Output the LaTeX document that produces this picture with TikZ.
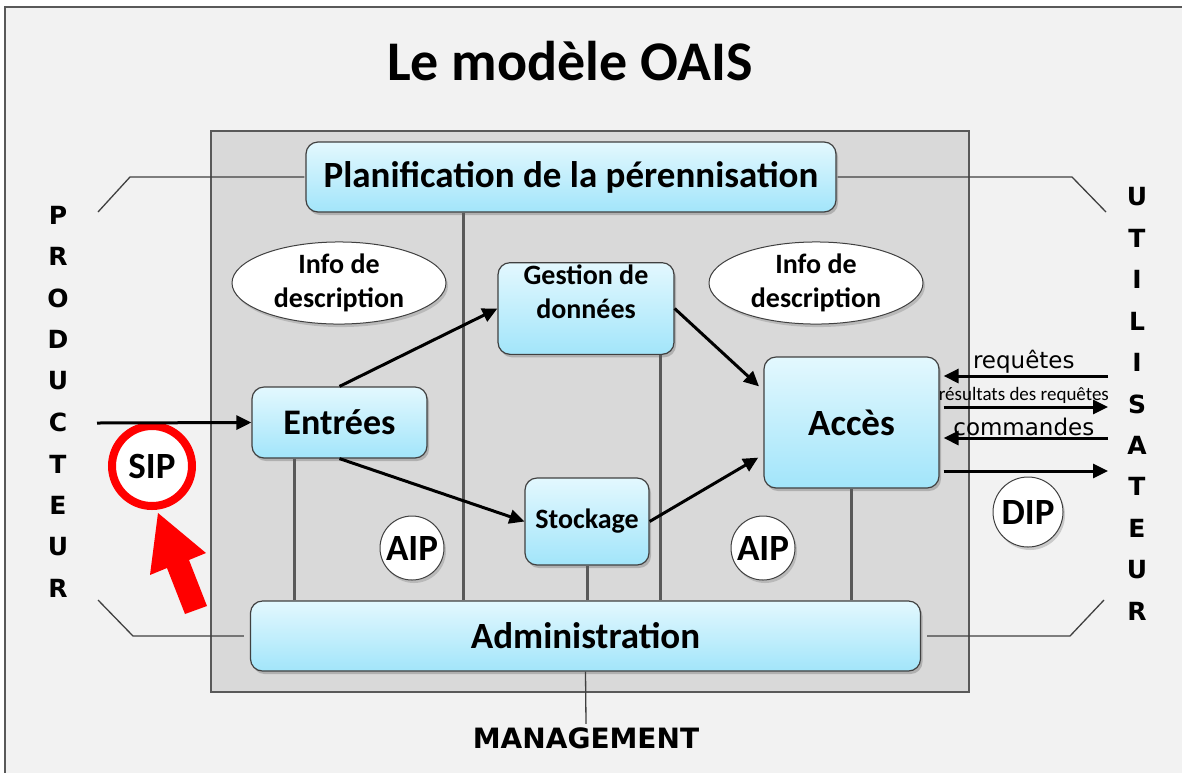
\documentclass[tikz,border=0pt]{standalone}
\usepackage{fontspec}
\setmainfont{Carlito}
\newfontfamily\dejavu{DejaVu Sans}
\usepackage{tikz}
\usetikzlibrary{arrows.meta,shapes.geometric,shadows,calc}

\definecolor{bgout}{HTML}{F2F2F2}
\definecolor{bgin}{HTML}{D9D9D9}
\definecolor{framegray}{HTML}{595959}
\definecolor{boxline}{HTML}{404040}
\definecolor{boxtop}{HTML}{E3F8FE}
\definecolor{boxbot}{HTML}{A2E5FA}

\begin{document}
\begin{tikzpicture}[x=1pt,y=-1pt,
	box/.style={draw=boxline,line width=1.2pt,rounded corners=12pt,top color=boxtop,bottom color=boxbot,
		drop shadow={shadow xshift=2pt,shadow yshift=-3pt,opacity=.45},font=\bfseries,align=center},
	infobox/.style={ellipse,draw=boxline,line width=1pt,fill=white,minimum width=214pt,minimum height=70pt,
		inner sep=0pt,drop shadow={shadow xshift=2pt,shadow yshift=-3pt,opacity=.35},
		font=\fontsize{28}{34}\selectfont\bfseries,align=center},
	pkg/.style={circle,draw=boxline,line width=1pt,fill=white,inner sep=0pt,
		drop shadow={shadow xshift=2pt,shadow yshift=-3pt,opacity=.35},font=\fontsize{37}{37}\selectfont\bfseries},
	letter/.style={font=\dejavu\fontsize{25}{25}\selectfont\bfseries},
	link/.style={draw=framegray,line width=3pt},
	side/.style={draw=boxline,line width=1.3pt},
	flow/.style={line width=3pt,-{Triangle[length=15pt,width=14pt]}},
	flowtxt/.style={font=\dejavu\fontsize{23}{23}\selectfont,inner sep=1pt}]
\useasboundingbox (0,0) rectangle (1182,772);

% fond
\draw[fill=bgout,draw=framegray,line width=1.2pt] (5,7) rectangle (1200,800);
\draw[fill=bgin,draw=framegray,line width=1.5pt] (211,131) rectangle (969,692);

\node[font=\fontsize{56}{56}\selectfont\bfseries,anchor=base] (titre) at (570,80) {Le modèle OAIS};

% boites
\node[box,minimum width=530pt,minimum height=70pt,font=\fontsize{37}{37}\selectfont\bfseries] (plan) at (571,177) {Planification de la pérennisation};
\node[box,minimum width=670pt,minimum height=70pt,font=\fontsize{37}{37}\selectfont\bfseries] (admin) at (585.5,636) {Administration};
\node[box,minimum width=175pt,minimum height=71pt,font=\fontsize{36}{36}\selectfont\bfseries] (entrees) at (339.5,422.5) {Entrées};
\node[box,minimum width=176pt,minimum height=87pt,font=\fontsize{28}{34}\selectfont\bfseries,inner sep=2pt] (gestion) at (586,308.5) {Gestion de\\données\\~};
\node[box,minimum width=124pt,minimum height=87pt,font=\fontsize{28}{28}\selectfont\bfseries,inner sep=2pt] (stockage) at (587,521.5) {Stockage};
\node[box,minimum width=175pt,minimum height=131pt,font=\fontsize{37}{37}\selectfont\bfseries] (acces) at (851.5,422.5) {Accès};

\node[infobox] (info1) at (339,283) {Info de\\description};
\node[infobox] (info2) at (816,283) {Info de\\description};

\node[pkg,minimum size=64pt] (aip1) at (412,548) {AIP};
\node[pkg,minimum size=64pt] (aip2) at (763,548) {AIP};
\node[pkg,minimum size=70pt] (dip) at (1028,512) {DIP};
\node[pkg,draw=red,line width=8pt,minimum size=80pt] (sip) at (152,466) {SIP};

% liens vers l'administration
\draw[link] ([xshift=-108pt]plan.south) -- ([xshift=-122.5pt]admin.north);
\draw[link] ([xshift=-45.5pt]entrees.south) -- ([xshift=-291.5pt]admin.north);
\draw[link] ([xshift=74pt]gestion.south) -- ([xshift=74.5pt]admin.north);
\draw[link] (stockage.south) -- ([xshift=1.5pt]admin.north);
\draw[link] (acces.south) -- ([xshift=266pt]admin.north);

% producteur / utilisateur
\coordinate (pl1) at (130,177);
\coordinate (pl2) at (98,212);
\coordinate (pr1) at (1072,177);
\coordinate (pr2) at (1106,212);
\coordinate (al1) at (133,636);
\coordinate (al2) at (98,600);
\coordinate (ar1) at (1070,636);
\coordinate (ar2) at (1104,600);
\draw[side] ([xshift=-1pt]plan.west) -- (pl1) -- (pl2);
\draw[side] ([xshift=1pt]plan.east) -- (pr1) -- (pr2);
\draw[side] ([xshift=-6pt]admin.west) -- (al1) -- (al2);
\draw[side] ([xshift=6pt]admin.east) -- (ar1) -- (ar2);

\foreach \l [count=\i] in {P,R,O,D,U,C,T,E,U,R}
	\node[letter] (p\i) at (58,{215+41.5*(\i-1)}) {\l};
\foreach \l [count=\i] in {U,T,I,L,I,S,A,T,E,U,R}
	\node[letter] (u\i) at (1137,{197+41.4*(\i-1)}) {\l};

\node[font=\dejavu\fontsize{28}{28}\selectfont\bfseries] (mgmt) at (586,738) {MANAGEMENT};
\draw[side] (admin.south) -- (mgmt.north);

% flux
\coordinate (prod) at (97,423);
\draw[flow] (prod) -- (entrees.west);
\draw[flow] (entrees.north) -- (gestion.west);
\draw[flow] (entrees.south) -- (stockage.west);
\draw[flow,shorten >=6pt] (gestion.east) -- (acces.160);
\draw[flow,shorten >=6pt] (stockage.east) -- (acces.200);

\coordinate (rq) at (1108,376);
\coordinate (rs) at (1108,407);
\coordinate (cm) at (1108,438);
\coordinate (dp) at (1108,471);
\draw[flow,shorten >=4pt] (rq) -- node[flowtxt,above,pos=.5] (rqtxt) {requêtes} (rq -| acces.east);
\draw[flow,shorten <=4pt] (rs -| acces.east) -- node[font=\fontsize{19}{19}\selectfont,above,inner sep=2pt] (rstxt) {résultats des requêtes} (rs);
\draw[flow,shorten >=4pt] (cm) -- node[flowtxt,above,pos=.5] (cmtxt) {commandes} (cm -| acces.east);
\draw[flow,shorten <=4pt] (dp -| acces.east) -- (dp);

% fleche rouge
\fill[red] (158,513) -- (206,553) -- (189,560) -- (207,606) -- (185,614) -- (167,568) -- (150,575) -- cycle;
\end{tikzpicture}
\end{document}
